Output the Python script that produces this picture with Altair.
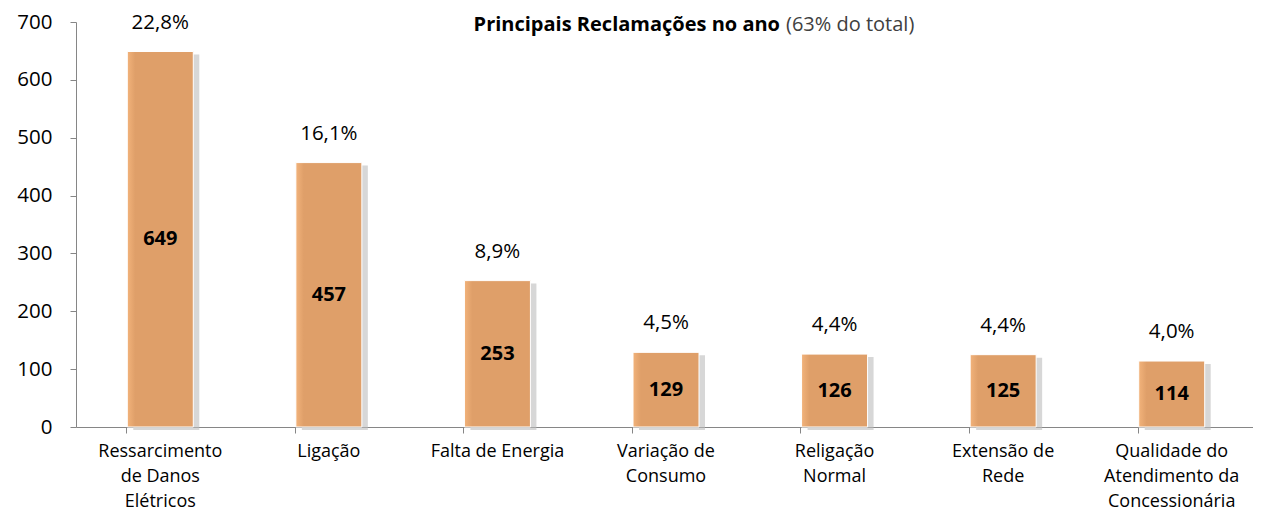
import altair as alt
import pandas as pd

categories = ["Ressarcimento|de Danos|Elétricos", "Ligação", "Falta de Energia",
              "Variação de|Consumo", "Religação|Normal", "Extensão de|Rede",
              "Qualidade do|Atendimento da|Concessionária"]
values = [649, 457, 253, 129, 126, 125, 114]
percents = ["22,8%", "16,1%", "8,9%", "4,5%", "4,4%", "4,4%", "4,0%"]
y_ticks = [0, 100, 200, 300, 400, 500, 600, 700]
title_bold = "Principais Reclamações no ano"
title_normal = "(63% do total)"

df = pd.DataFrame({"cat": categories, "val": values, "pct": percents})
df["half"] = df["val"] / 2

FONT = "Open Sans"

x_enc = alt.X("cat:N", sort=categories,
              scale=alt.Scale(range=[0, 1180], paddingInner=0.6, paddingOuter=0.3),
              axis=alt.Axis(title=None, labelAngle=0, labelExpr="split(datum.label, '|')",
                            labelFontSize=18, labelFont=FONT, labelColor="#000000",
                            labelLineHeight=25, labelPadding=9, labelBaseline="top",
                            tickSize=6, bandPosition=0, domainColor="#868686",
                            tickColor="#868686", labelLimit=300))
y_scale = alt.Scale(domain=[0, 700], nice=False)

base = alt.Chart(df)

shadow = base.mark_bar(size=66, xOffset=6, yOffset=3, color="#bdbdbd", opacity=0.6).encode(
    x=x_enc,
    y=alt.Y("val:Q", scale=y_scale,
            axis=alt.Axis(title=None, values=y_ticks, grid=False, labelFontSize=20.5,
                          labelFont=FONT, labelColor="#000000", labelPadding=18,
                          tickSize=6, domainColor="#868686", tickColor="#868686")),
)

bars = base.mark_bar(
    size=66,
    stroke="#ffffff", strokeWidth=1,
    color=alt.Gradient(gradient="linear", x1=0, x2=1, y1=0, y2=0,
                       stops=[alt.GradientStop(color="#F2B37B", offset=0),
                              alt.GradientStop(color="#DF9F69", offset=0.12),
                              alt.GradientStop(color="#DF9F69", offset=1)]),
).encode(x=x_enc, y=alt.Y("val:Q", scale=y_scale))

pct_text = base.mark_text(font=FONT, fontSize=20.5, color="#000000", dy=-29, baseline="middle").encode(
    x=x_enc, y=alt.Y("val:Q", scale=y_scale), text="pct:N")

val_text = base.mark_text(font=FONT, fontSize=20, fontWeight="bold", color="#000000",
                          baseline="middle").encode(
    x=x_enc, y=alt.Y("half:Q", scale=y_scale), text="val:Q")

tdf = pd.DataFrame({"b": [title_bold], "n": [title_normal]})
t1 = alt.Chart(tdf).mark_text(font=FONT, fontSize=20, fontWeight="bold", align="right",
                              baseline="alphabetic", color="#000000").encode(
    x=alt.value(704), y=alt.value(9), text="b:N")
t2 = alt.Chart(tdf).mark_text(font=FONT, fontSize=20, align="left",
                              baseline="alphabetic", color="#404040").encode(
    x=alt.value(710), y=alt.value(9), text="n:N")

chart = alt.layer(shadow, bars, pct_text, val_text, t1, t2).properties(
    width=1172, height=405,
    autosize=alt.AutoSizeParams(type="none"),
    padding={"left": 68, "top": 14, "right": 5, "bottom": 91},
).configure_view(stroke=None)

chart.save("out.html", embed_options={"renderer": "svg", "actions": False})
